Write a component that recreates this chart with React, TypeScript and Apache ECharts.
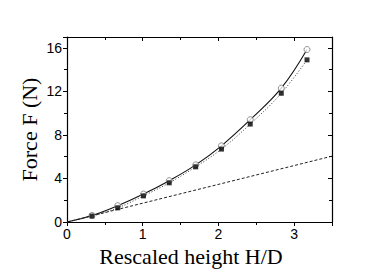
import React, { useEffect, useRef } from "react";
import * as echarts from "echarts";

const heights = [0.33, 0.67, 1.01, 1.35, 1.7, 2.04, 2.42, 2.83, 3.17];
const forceOpen = [0.6, 1.5, 2.57, 3.8, 5.25, 7.0, 9.4, 12.3, 15.85];
const forceFilled = [0.55, 1.3, 2.4, 3.6, 5.07, 6.7, 9.0, 11.83, 14.9];
const linearX = [0, 3.5];
const linearY = [0, 6.05];
const xTicks = [0, 1, 2, 3];
const yTicks = [0, 4, 8, 12, 16];

export default function App() {
  const ref = useRef<HTMLDivElement>(null);
  useEffect(() => {
    if (!ref.current) return;
    const chart = echarts.init(ref.current, null, { renderer: "svg" });
    const openPts = heights.map((h, i) => [h, forceOpen[i]]);
    const filledPts = heights.map((h, i) => [h, forceFilled[i]]);
    const black = "#000";
    const baseAxis = {
      axisLine: { show: true, onZero: false, lineStyle: { color: black, width: 1.2 } },
      splitLine: { show: false },
    };
    chart.setOption({
      animation: false,
      backgroundColor: "#fff",
      grid: { left: 67, top: 37, right: 54, bottom: 51 },
      xAxis: [
        {
          ...baseAxis,
          type: "value",
          min: 0,
          max: 3.5,
          interval: 1,
          name: "Rescaled height H/D",
          nameLocation: "middle",
          nameGap: 21,
          nameTextStyle: {
            fontFamily: "Liberation Serif",
            fontSize: 22,
            color: black,
            padding: [0, 17, 0, 0],
          },
          axisTick: { show: true, inside: false, length: 4, lineStyle: { color: black } },
          minorTick: { show: true, splitNumber: 2, length: 3, lineStyle: { color: black } },
          axisLabel: {
            showMaxLabel: false,
            margin: 5,
            fontFamily: "Liberation Sans",
            fontSize: 14,
            color: black,
            formatter: (v: number) => (xTicks.includes(v) ? String(v) : ""),
          },
        },
        {
          ...baseAxis,
          type: "value",
          position: "top",
          min: 0,
          max: 3.5,
          interval: 1,
          axisTick: { show: true, inside: true, length: 4, lineStyle: { color: black } },
          minorTick: { show: true, splitNumber: 2, length: 3, lineStyle: { color: black } },
          axisLabel: { show: false },
        },
      ],
      yAxis: [
        {
          ...baseAxis,
          type: "value",
          min: 0,
          max: 17,
          interval: 4,
          name: "Force F (N)",
          nameLocation: "middle",
          nameGap: 27,
          nameMoveOverlap: false,
          nameRotate: 90,
          nameTextStyle: { fontFamily: "Liberation Serif", fontSize: 22, color: black },
          axisTick: { show: true, inside: false, length: 4, lineStyle: { color: black } },
          minorTick: { show: true, splitNumber: 2, length: 3, lineStyle: { color: black } },
          axisLabel: {
            showMaxLabel: false,
            margin: 5,
            fontFamily: "Liberation Sans",
            fontSize: 14,
            color: black,
            formatter: (v: number) => (yTicks.includes(v) ? String(v) : ""),
          },
        },
        {
          ...baseAxis,
          type: "value",
          position: "right",
          min: 0,
          max: 17,
          interval: 4,
          axisTick: { show: true, inside: true, length: 4, lineStyle: { color: black } },
          minorTick: { show: true, splitNumber: 2, length: 3, lineStyle: { color: black } },
          axisLabel: { show: false },
        },
      ],
      series: [
        {
          type: "line",
          data: linearX.map((x, i) => [x, linearY[i]]),
          symbol: "none",
          lineStyle: { color: "#222", width: 1, type: [3, 2] },
        },
        {
          type: "line",
          data: [[0, 0], ...openPts],
          smooth: 0.4,
          symbol: "none",
          lineStyle: { color: "#111", width: 1.1, type: "solid" },
        },
        {
          type: "line",
          data: [[0, 0], ...filledPts],
          smooth: 0.4,
          symbol: "none",
          lineStyle: { color: "#333", width: 1, type: [1, 2] },
        },
        {
          type: "scatter",
          data: openPts,
          symbol: "circle",
          symbolSize: 6,
          itemStyle: { color: "#fff", borderColor: "#777", borderWidth: 1 },
          z: 5,
        },
        {
          type: "scatter",
          data: filledPts,
          symbol: "rect",
          symbolSize: 5,
          itemStyle: { color: "#000" },
          z: 6,
        },
      ],
    });
    return () => chart.dispose();
  }, []);
  return (
    <div
      ref={ref}
      style={{ position: "fixed", left: 0, top: 0, width: 386, height: 273, background: "#fff" }}
    />
  );
}
